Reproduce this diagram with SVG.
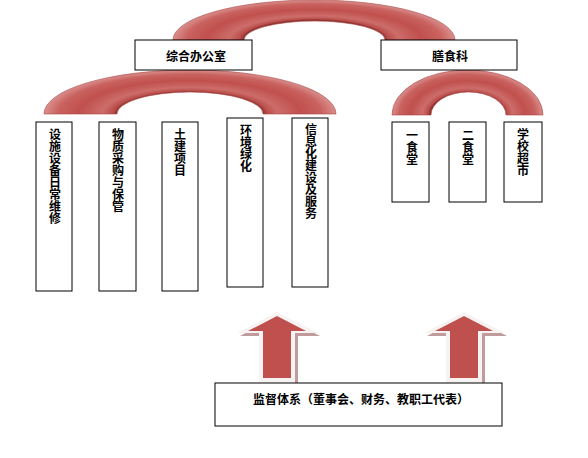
<svg xmlns="http://www.w3.org/2000/svg" width="588" height="458" viewBox="0 0 588 458">
<style>
  .box { fill: #ffffff; stroke: #000000; stroke-width: 1; }
  .lbl { font-family: "Noto Sans CJK SC", "Liberation Sans", sans-serif; font-size: 12px; font-weight: bold; fill: #000000; }
  .h { text-anchor: middle; dominant-baseline: central; }
  .v { writing-mode: vertical-rl; text-anchor: start; }
  .arch { fill: url(#archGrad); stroke: #a84441; stroke-width: 0.6; }
  .arrowShadow { fill: #bf9b9b; }
  .arrowRim { fill: #f7f3f3; }
  .arrowBody { fill: #c0504d; }
</style>
<defs>
  <radialGradient id="archGrad" cx="0.5" cy="1" r="1" gradientTransform="translate(0.5,0) scale(0.5,1) translate(-0.5,0)">
    <stop offset="0.5" stop-color="#8f3432"/>
    <stop offset="0.53" stop-color="#bb4f4c"/>
    <stop offset="0.6" stop-color="#cc6d6a"/>
    <stop offset="0.76" stop-color="#c0504d"/>
    <stop offset="0.9" stop-color="#c9625f"/>
    <stop offset="1" stop-color="#d98f8d"/>
  </radialGradient>
</defs>

<g id="arches">
  <path id="arch-top" class="arch" d="M173,40 A141,40 0 0 1 455,40 L385,40 A70.5,19 0 0 0 244,40 Z"/>
  <path id="arch-left" class="arch" d="M44,114 A146,44 0 0 1 336,114 L263,114 A73,22 0 0 0 117,114 Z"/>
  <path id="arch-right" class="arch" d="M392,115 A75.5,45 0 0 1 543,115 L506,115 A37.5,23 0 0 0 431,115 Z"/>
</g>

<g id="node-zonghe">
  <rect class="box" x="135" y="40" width="117" height="30"/>
  <text class="lbl h" x="196" y="55">综合办公室</text>
</g>
<g id="node-shanshi">
  <rect class="box" x="381" y="40" width="136" height="30"/>
  <text class="lbl h" x="450" y="55">膳食科</text>
</g>

<g id="node-sheshi">
  <rect class="box" x="36" y="122" width="36" height="169"/>
  <text class="lbl v" x="55" y="128">设施设备日常维修</text>
</g>
<g id="node-wuzi">
  <rect class="box" x="99" y="122" width="37" height="169"/>
  <text class="lbl v" x="118" y="128">物质采购与保管</text>
</g>
<g id="node-tujian">
  <rect class="box" x="162" y="122" width="36" height="169"/>
  <text class="lbl v" x="180" y="128">土建项目</text>
</g>
<g id="node-huanjing">
  <rect class="box" x="227" y="118" width="36" height="169"/>
  <text class="lbl v" x="246" y="124">环境绿化</text>
</g>
<g id="node-xinxi">
  <rect class="box" x="292" y="118" width="36" height="169"/>
  <text class="lbl v" x="311" y="123">信息化建设及服务</text>
</g>

<g id="node-yishitang">
  <rect class="box" x="392" y="122" width="37" height="80"/>
  <text class="lbl v" x="412" y="129">一食堂</text>
</g>
<g id="node-ershitang">
  <rect class="box" x="449" y="122" width="37" height="80"/>
  <text class="lbl v" x="468" y="129">二食堂</text>
</g>
<g id="node-chaoshi">
  <rect class="box" x="504" y="122" width="38" height="80"/>
  <text class="lbl v" x="523" y="128">学校超市</text>
</g>

<g id="connectors">
  <g id="arrow-1">
    <polygon class="arrowShadow" points="279,315 320,336 298,336 298,386 262,386 262,336 240,336"/>
    <polygon class="arrowRim" points="277,312 318,333 295,333 295,383 259,383 259,333 237,333"/>
    <polygon class="arrowBody" points="277,316 306,331 291,331 291,378 263,378 263,331 248,331"/>
  </g>
  <g id="arrow-2">
    <polygon class="arrowShadow" points="466,315 507,336 485,336 485,386 449,386 449,336 427,336"/>
    <polygon class="arrowRim" points="464,312 505,333 482,333 482,383 446,383 446,333 424,333"/>
    <polygon class="arrowBody" points="464,316 493,331 478,331 478,378 450,378 450,331 435,331"/>
  </g>
</g>

<g id="node-jiandu">
  <rect class="box" x="215" y="383" width="287" height="43"/>
  <text class="lbl h" x="361" y="398">监督体系（董事会、财务、教职工代表）</text>
</g>
</svg>
